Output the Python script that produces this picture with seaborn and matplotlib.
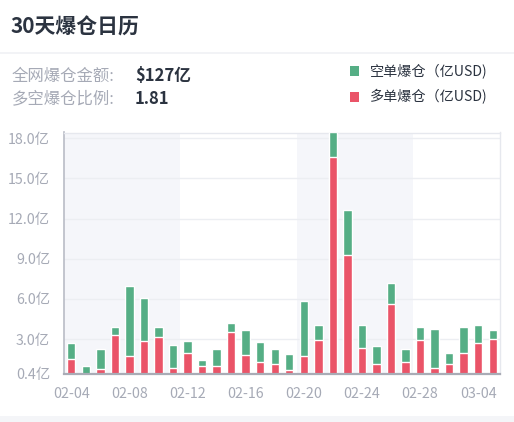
import matplotlib
matplotlib.use("Agg")
import matplotlib.pyplot as plt
import pandas as pd
import seaborn as sns
from matplotlib.patches import Rectangle

# ── Data ──────────────────────────────────────────────────────
dates = ["02-04", "02-05", "02-06", "02-07", "02-08", "02-09", "02-10", "02-11",
         "02-12", "02-13", "02-14", "02-15", "02-16", "02-17", "02-18", "02-19",
         "02-20", "02-21", "02-22", "02-23", "02-24", "02-25", "02-26", "02-27",
         "02-28", "03-01", "03-02", "03-03", "03-04", "03-05"]
long_liq = [1.55, 0.25, 0.75, 3.30, 1.78, 2.83, 3.15, 0.88, 1.97, 1.00,
            0.98, 3.55, 1.82, 1.27, 1.12, 0.70, 1.78, 2.93, 16.63, 9.30,
            2.33, 1.18, 5.60, 1.30, 2.93, 0.85, 1.12, 2.00, 2.72, 3.02]
short_liq = [1.13, 0.75, 1.50, 0.58, 5.22, 3.22, 0.73, 1.65, 0.88, 0.43,
             1.25, 0.63, 1.88, 1.53, 1.18, 1.23, 4.09, 1.14, 1.80, 3.32,
             1.70, 1.30, 1.62, 1.00, 0.97, 2.88, 0.88, 1.90, 1.33, 0.63]
y_ticks = [0.4, 3.0, 6.0, 9.0, 12.0, 15.0, 18.0]
x_tick_every = 4
band_len = 8

title = "30天爆仓日历"
total_label, total_value = "全网爆仓金额:", "$127亿"
ratio_label, ratio_value = "多空爆仓比例:", "1.81"
short_name = "空单爆仓（亿USD)"
long_name = "多单爆仓（亿USD)"

GREEN = "#55ae85"
RED = "#ea5468"
GREY_TXT = "#a6aab6"
DARK_TXT = "#2b3340"

df = pd.DataFrame({"date": dates, "long": long_liq, "short": short_liq})
df["total"] = df["long"] + df["short"]

sns.set_style("white")
plt.rcParams["font.family"] = ["Noto Sans CJK SC", "DejaVu Sans"]

fig = plt.figure(figsize=(5.14, 4.22), dpi=100)
fig.patch.set_facecolor("white")

# header / separators
fig.add_artist(Rectangle((0, 1 - 54 / 422), 1, 2 / 422, transform=fig.transFigure,
                         color="#f2f3f6", lw=0))
fig.add_artist(Rectangle((0, 0), 1, 6 / 422, transform=fig.transFigure,
                         color="#f4f5f8", lw=0))

fig.text(11 / 514, 1 - 27 / 422, title, fontsize=15, color=DARK_TXT,
         fontweight="bold", va="center", ha="left")
fig.text(12 / 514, 1 - 76 / 422, total_label, fontsize=11.8, color=GREY_TXT,
         va="center", ha="left")
fig.text(135 / 514, 1 - 76 / 422, total_value, fontsize=12, color=DARK_TXT,
         fontweight="bold", va="center", ha="left")
fig.text(12 / 514, 1 - 99 / 422, ratio_label, fontsize=11.8, color=GREY_TXT,
         va="center", ha="left")
fig.text(135 / 514, 1 - 99 / 422, ratio_value, fontsize=12, color=DARK_TXT,
         fontweight="bold", va="center", ha="left")

# legend
for yc, col, name in [(71, GREEN, short_name), (97, RED, long_name)]:
    fig.add_artist(Rectangle((350 / 514, 1 - (yc + 4.5) / 422), 9 / 514, 9 / 422,
                             transform=fig.transFigure, color=col, lw=0))
    fig.text(370 / 514, 1 - yc / 422, name, fontsize=10.2, color=DARK_TXT,
             va="center", ha="left")

# ── Chart ─────────────────────────────────────────────────────
ax = fig.add_axes([64 / 514, 48 / 422, 436 / 514, (374 - 132.5) / 422])
n = len(dates)
for start in range(0, n, 2 * band_len):
    ax.axvspan(start - 0.5, min(start + band_len, n) - 0.5,
               color="#f5f6fa", lw=0, zorder=0)

sns.barplot(data=df, x="date", y="total", color=GREEN, width=0.58,
            saturation=1, ax=ax, zorder=3)
sns.barplot(data=df, x="date", y="long", color=RED, width=0.58,
            saturation=1, ax=ax, zorder=4)

ax.set_ylim(0.4, 18.43)
ax.set_xlim(-0.5, n - 0.5)
ax.set_yticks(y_ticks)
ax.set_yticklabels([f"{v:.1f}亿" for v in y_ticks])
ax.set_xticks(range(0, n, x_tick_every))
ax.set_xticklabels(dates[::x_tick_every])
ax.tick_params(axis="both", length=0, labelsize=10.3, labelcolor=GREY_TXT)
ax.tick_params(axis="y", pad=10)
ax.tick_params(axis="x", pad=9)
ax.set_xlabel("")
ax.set_ylabel("")
for v in y_ticks[1:]:
    ax.axhline(v, color="#eceef2", lw=1, zorder=1)

for side in ["top", "right"]:
    ax.spines[side].set_color("#e6e8ee")
    ax.spines[side].set_linewidth(1)
ax.spines["left"].set_color("#b9bcc6")
ax.spines["bottom"].set_color("#a9acb6")
ax.spines["left"].set_linewidth(1.2)
ax.spines["bottom"].set_linewidth(1.6)
ax.spines["bottom"].set_zorder(5)

fig.savefig("out.png", dpi=100, facecolor="white")
